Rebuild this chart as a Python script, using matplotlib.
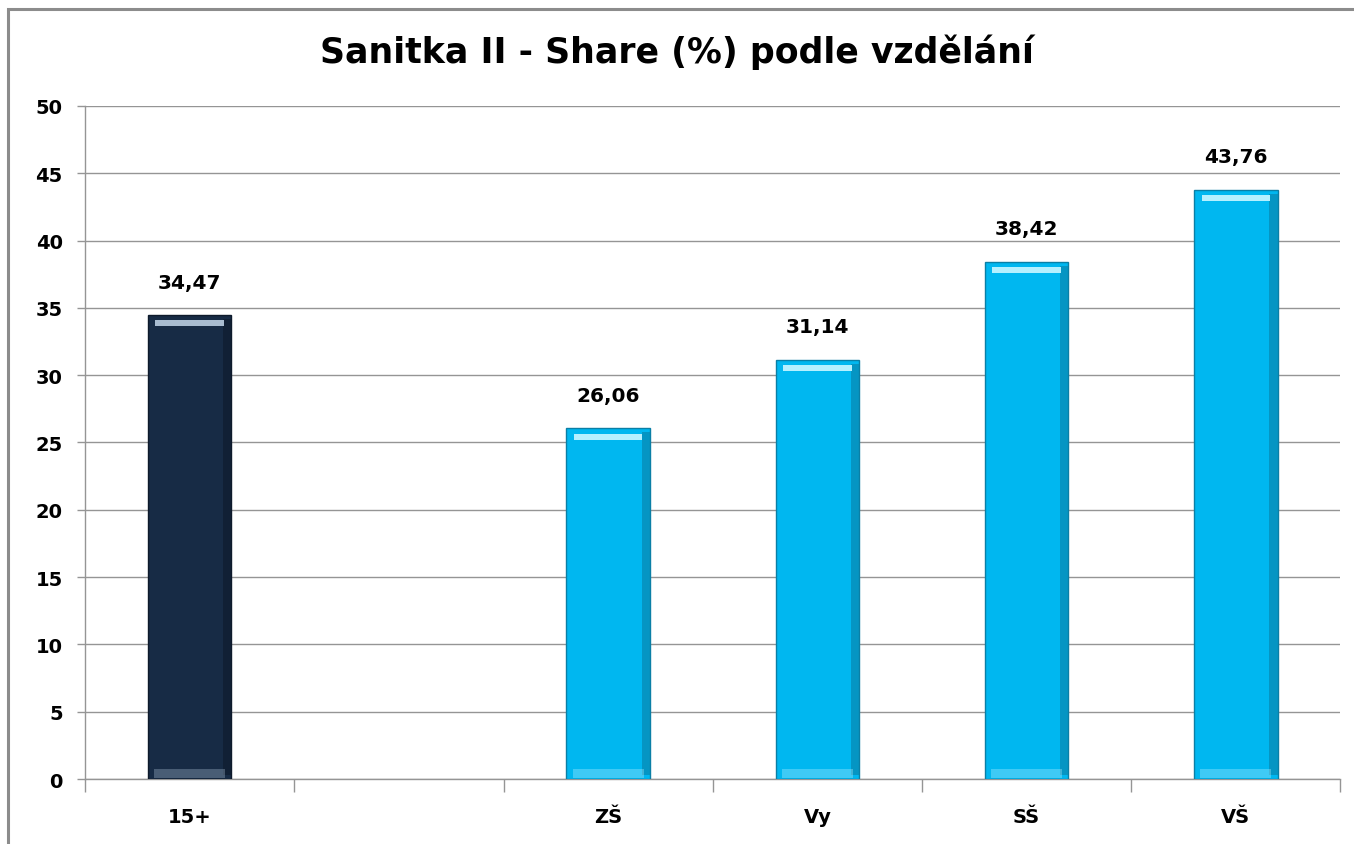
import matplotlib
matplotlib.use("Agg")
import matplotlib.pyplot as plt
from matplotlib.patches import Rectangle

# chart data
categories = ["15+", "", "ZŠ", "Vy", "SŠ", "VŠ"]
values = [34.47, None, 26.06, 31.14, 38.42, 43.76]
bar_colors = ["#172B45", None, "#00B7F0", "#00B7F0", "#00B7F0", "#00B7F0"]
hi_colors = ["#A9BCD0", None, "#B5F0FF", "#B5F0FF", "#B5F0FF", "#B5F0FF"]
dark_colors = ["#0E1A2B", None, "#0A7FA6", "#0A7FA6", "#0A7FA6", "#0A7FA6"]
yticks = [0, 5, 10, 15, 20, 25, 30, 35, 40, 45, 50]
title = "Sanitka II - Share (%) podle vzdělání"

fig = plt.figure(figsize=(13.54, 8.45), dpi=100)
ax = fig.add_axes([0.0628, 0.0769, 0.9272, 0.7965])  # plot area

# outer chart frame (cut at right/bottom like the screenshot)
fig.add_artist(Rectangle((8 / 1354, -0.1), 1.2, 1.1 - 10 / 845,
                         transform=fig.transFigure, fill=False,
                         edgecolor="#8C8C8C", lw=2.2, clip_on=False))

xs = list(range(len(categories)))
width = 0.4
for x, v, c, hc, dc in zip(xs, values, bar_colors, hi_colors, dark_colors):
    if v is None:
        continue
    ax.bar(x, v, width=width, color=c, edgecolor=dc, linewidth=1.0, zorder=3)
    # bevel: darker right side, light strip at top, lighter base
    ax.bar(x + width / 2 - 0.02, v - 0.6, width=0.04, bottom=0.3, color=dc,
           alpha=0.6, linewidth=0, zorder=4)
    ax.bar(x, 0.45, width=width * 0.82, bottom=v - 0.85, color=hc,
           linewidth=0, zorder=4)
    ax.bar(x, 0.7, width=width * 0.85, bottom=0.05, color=hc, alpha=0.35,
           linewidth=0, zorder=4)
    ax.text(x, v + 2.45, f"{v:.2f}".replace(".", ","), ha="center",
            va="center", fontsize=14.5, fontweight="bold", color="black")

ax.set_xlim(-0.5, len(categories) - 0.5)
ax.set_ylim(0, 50)
ax.set_yticks(yticks)
ax.set_yticklabels([str(t) for t in yticks], fontsize=14, fontweight="bold")
ax.yaxis.grid(True, color="#959595", lw=1.0, zorder=0)
ax.set_axisbelow(True)

# category labels centred, ticks between categories
ax.set_xticks([x - 0.5 for x in xs] + [len(categories) - 0.5])
ax.set_xticklabels([])
ax.set_xticks(xs, minor=True)
ax.set_xticklabels(categories, minor=True, fontsize=14, fontweight="bold")
ax.tick_params(axis="x", which="major", length=9, color="#959595", width=1.0)
ax.tick_params(axis="x", which="minor", length=0, pad=20)
ax.tick_params(axis="y", length=6, color="#959595", width=1.0, pad=10)

for s in ["top", "right"]:
    ax.spines[s].set_visible(False)
for s in ["left", "bottom"]:
    ax.spines[s].set_color("#959595")
    ax.spines[s].set_linewidth(1.0)

fig.text(0.5, 1 - 52 / 845, title, ha="center", va="center", fontsize=25,
         fontweight="bold")

fig.savefig("out.png", dpi=100)
